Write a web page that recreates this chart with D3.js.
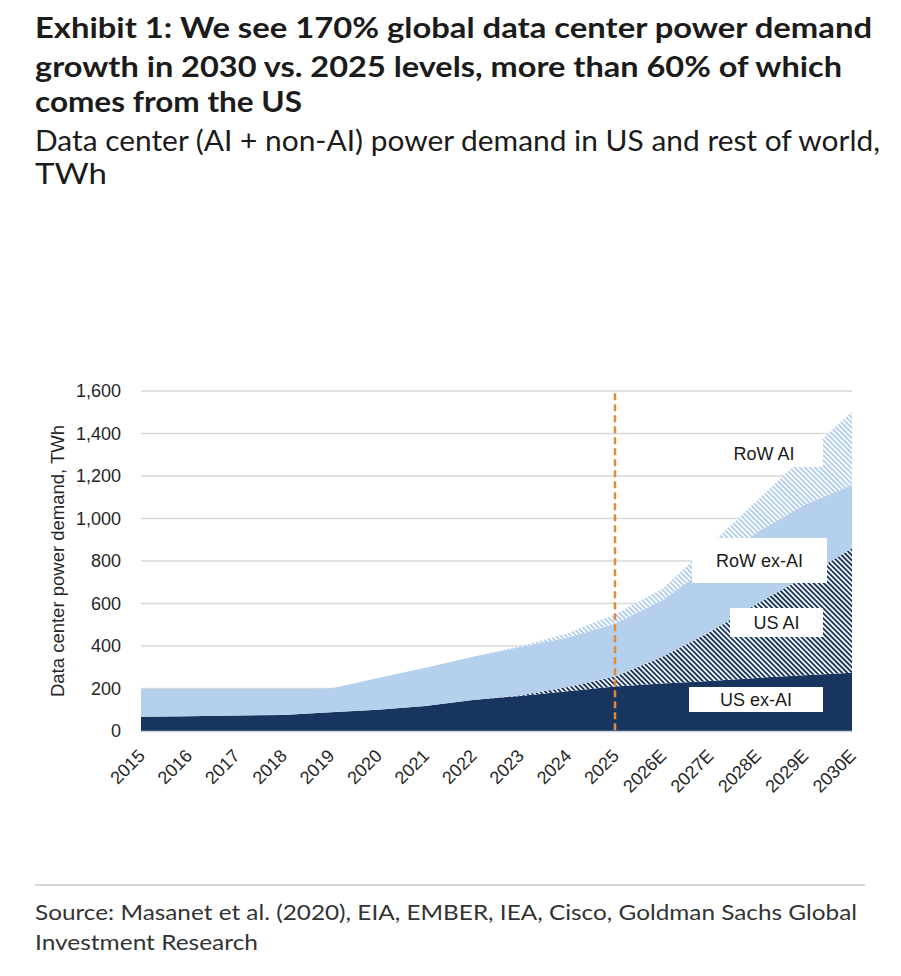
<!DOCTYPE html>
<html>
<head>
<meta charset="utf-8">
<script src="https://cdn.jsdelivr.net/npm/d3@7"></script>
<style>
    body { margin: 0; background: #fff; }
    svg { display: block; }
</style>
</head>
<body>
<div id="chart"></div>
<script>
const years = ['2015', '2016', '2017', '2018', '2019', '2020', '2021', '2022', '2023', '2024',
    '2025', '2026E', '2027E', '2028E', '2029E', '2030E'];

// TWh, stacked from the bottom up
const usExAI = [67, 70, 73, 75, 88, 100, 118, 146, 165, 187, 209, 223, 235, 250, 262, 274];
const usAI = [0, 0, 0, 0, 0, 0, 0, 0, 3, 20, 47, 127, 231, 350, 463, 586];
const rowExAI = [131, 128, 125, 123, 112, 149, 180, 204, 227, 233, 249, 265, 309, 335, 340, 298];
const rowAI = [0, 0, 0, 0, 0, 0, 0, 0, 5, 20, 45, 55, 100, 150, 230, 345];

const seriesKeys = ['usExAI', 'usAI', 'rowExAI', 'rowAI'];
const seriesLabels = ['US ex-AI', 'US AI', 'RoW ex-AI', 'RoW AI'];
const yTicks = [0, 200, 400, 600, 800, 1000, 1200, 1400, 1600];
const forecastStart = '2025';

const titleLines = [
    'Exhibit 1: We see 170% global data center power demand',
    'growth in 2030 vs. 2025 levels, more than 60% of which',
    'comes from the US'
];
const subtitleLines = [
    'Data center (AI + non-AI) power demand in US and rest of world,',
    'TWh'
];
const sourceLines = [
    'Source: Masanet et al. (2020), EIA, EMBER, IEA, Cisco, Goldman Sachs Global',
    'Investment Research'
];

const width = 901;
const height = 976;
const plot = { left: 141, right: 852, top: 391, bottom: 731 };

const svg = d3.create('svg')
    .attr('width', width)
    .attr('height', height);

svg.append('rect')
    .attr('width', width)
    .attr('height', height)
    .attr('fill', 'white');

// hatch fills for the AI layers
const defs = svg.append('defs');
function addHatch(id, color) {
    const p = defs.append('pattern')
        .attr('id', id)
        .attr('patternUnits', 'userSpaceOnUse')
        .attr('width', 3.6)
        .attr('height', 8)
        .attr('patternTransform', 'rotate(-45)');
    p.append('rect')
        .attr('width', 3.6)
        .attr('height', 8)
        .attr('fill', 'white');
    p.append('rect')
        .attr('width', 1.9)
        .attr('height', 8)
        .attr('fill', color);
}
addHatch('hatchNavy', '#17355f');
addHatch('hatchLight', '#b3cfec');

const fills = ['#17355f', 'url(#hatchNavy)', '#b5d0ec', 'url(#hatchLight)'];

// titles
function addLines(lines, opts) {
    lines.forEach((line, i) => {
        const t = svg.append('text')
            .attr('x', 35)
            .attr('y', opts.y[i])
            .attr('font-family', opts.family)
            .attr('font-size', opts.size)
            .attr('font-weight', opts.weight)
            .attr('fill', opts.color)
            .text(line);
        if (opts.widths && opts.widths[i]) {
            t.attr('textLength', opts.widths[i])
                .attr('lengthAdjust', 'spacingAndGlyphs');
        }
    });
}

addLines(titleLines, {
    y: [38, 77, 112], family: 'Lato, "Open Sans", sans-serif', size: 28.5, weight: 700,
    color: '#1b1b1b', widths: [837, 807, 267]
});
addLines(subtitleLines, {
    y: [151, 184], family: 'Lato, "Open Sans", sans-serif', size: 28, weight: 400,
    color: '#1b1b1b', widths: [845, 72]
});

const x = d3.scalePoint()
    .domain(years)
    .range([plot.left, plot.right]);

const y = d3.scaleLinear()
    .domain([0, 1600])
    .range([plot.bottom, plot.top]);

const chartFont = '"Liberation Sans", Arial, sans-serif';

// gridlines
svg.append('g')
    .selectAll('line')
    .data(yTicks.filter(d => d > 0))
    .enter().append('line')
    .attr('x1', plot.left)
    .attr('x2', plot.right)
    .attr('y1', d => y(d))
    .attr('y2', d => y(d))
    .attr('stroke', '#d9d9d9')
    .attr('stroke-width', 1.5);

// stacked areas
const rows = years.map((yr, i) => ({
    year: yr,
    usExAI: usExAI[i],
    usAI: usAI[i],
    rowExAI: rowExAI[i],
    rowAI: rowAI[i]
}));

const stacked = d3.stack().keys(seriesKeys)(rows);

const area = d3.area()
    .x(d => x(d.data.year))
    .y0(d => y(d[0]))
    .y1(d => y(d[1]));

svg.append('g')
    .selectAll('path')
    .data(stacked)
    .enter().append('path')
    .attr('d', area)
    .attr('fill', (d, i) => fills[i]);

// x axis line
svg.append('line')
    .attr('x1', plot.left)
    .attr('x2', plot.right)
    .attr('y1', plot.bottom + 0.5)
    .attr('y2', plot.bottom + 0.5)
    .attr('stroke', '#c9d3df')
    .attr('stroke-width', 1.5);

// forecast divider
svg.append('line')
    .attr('x1', x(forecastStart))
    .attr('x2', x(forecastStart))
    .attr('y1', y(1590))
    .attr('y2', y(0))
    .attr('stroke', '#e08a3e')
    .attr('stroke-width', 2.5)
    .attr('stroke-dasharray', '7,4');

// y axis labels
svg.append('g')
    .selectAll('text')
    .data(yTicks)
    .enter().append('text')
    .attr('x', 121)
    .attr('y', d => y(d))
    .attr('dy', '0.35em')
    .attr('text-anchor', 'end')
    .attr('font-family', chartFont)
    .attr('font-size', 18)
    .attr('fill', '#262626')
    .text(d => d3.format(',')(d));

svg.append('text')
    .attr('transform', `translate(64, ${(plot.top + plot.bottom) / 2}) rotate(-90)`)
    .attr('text-anchor', 'middle')
    .attr('font-family', chartFont)
    .attr('font-size', 18.5)
    .attr('fill', '#262626')
    .text('Data center power demand, TWh');

// x axis labels
svg.append('g')
    .selectAll('text')
    .data(years)
    .enter().append('text')
    .attr('transform', d => `translate(${x(d) + 5}, 757) rotate(-45)`)
    .attr('text-anchor', 'end')
    .attr('font-family', chartFont)
    .attr('font-size', 18)
    .attr('fill', '#262626')
    .text(d => d);

// series labels in white boxes
const labelBoxes = [
    { name: seriesLabels[3], x0: 705, x1: 823, y0: 440, y1: 467 },
    { name: seriesLabels[2], x0: 692, x1: 827, y0: 538, y1: 583 },
    { name: seriesLabels[1], x0: 730, x1: 823, y0: 608, y1: 637 },
    { name: seriesLabels[0], x0: 689, x1: 823, y0: 687, y1: 712 }
];

const boxG = svg.append('g');
labelBoxes.forEach(b => {
    boxG.append('rect')
        .attr('x', b.x0)
        .attr('y', b.y0)
        .attr('width', b.x1 - b.x0)
        .attr('height', b.y1 - b.y0)
        .attr('fill', 'white');
    boxG.append('text')
        .attr('x', (b.x0 + b.x1) / 2)
        .attr('y', (b.y0 + b.y1) / 2)
        .attr('dy', '0.35em')
        .attr('text-anchor', 'middle')
        .attr('font-family', chartFont)
        .attr('font-size', 18)
        .attr('fill', '#1a1a1a')
        .text(b.name);
});

// footer
svg.append('line')
    .attr('x1', 35)
    .attr('x2', 865)
    .attr('y1', 885)
    .attr('y2', 885)
    .attr('stroke', '#c8c8c8')
    .attr('stroke-width', 1.5);

addLines(sourceLines, {
    y: [920, 950], family: 'Lato, "Open Sans", sans-serif', size: 21, weight: 400,
    color: '#333333', widths: [822, 223]
});

d3.select('#chart').node().append(svg.node());
</script>
</body>
</html>
